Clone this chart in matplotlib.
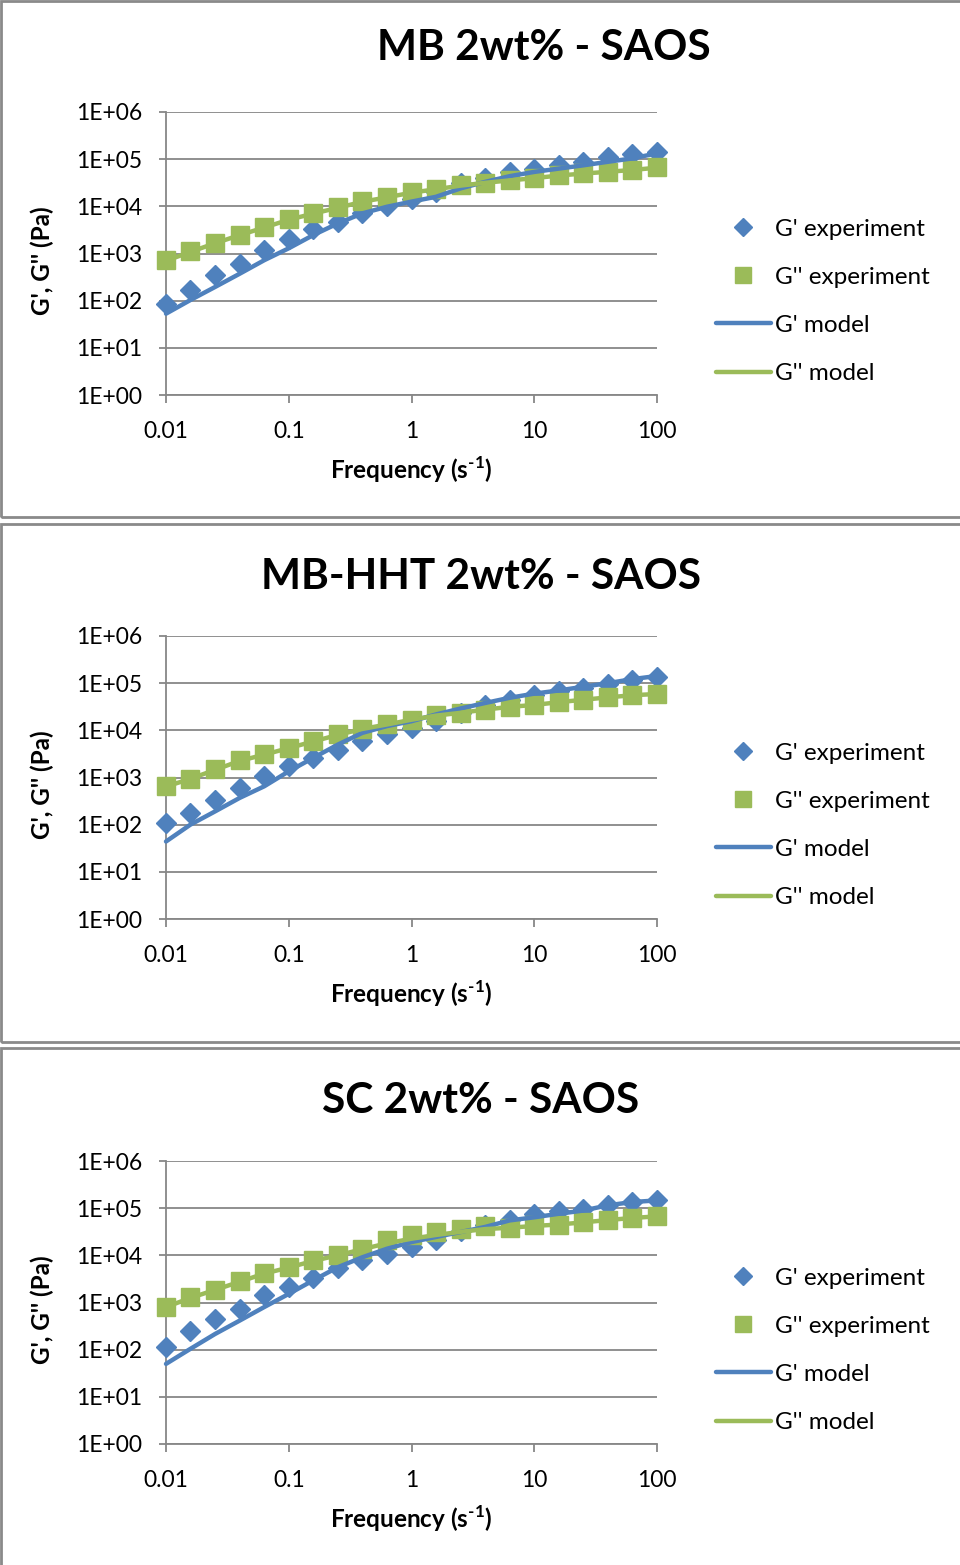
import numpy as np
import matplotlib
matplotlib.use('Agg')
import matplotlib.pyplot as plt
from matplotlib.patches import Rectangle

plt.rcParams['font.family'] = ['Lato', 'DejaVu Sans']
plt.rcParams['mathtext.fontset'] = 'custom'
plt.rcParams['mathtext.rm'] = 'Lato:bold'
plt.rcParams['mathtext.bf'] = 'Lato:bold'

# ---- data ----
freq = [0.01, 0.0158, 0.0251, 0.0398, 0.0631, 0.1, 0.158, 0.251, 0.398, 0.631,
        1, 1.58, 2.51, 3.98, 6.31, 10, 15.8, 25.1, 39.8, 63.1, 100]

titles = ['MB 2wt% - SAOS', 'MB-HHT 2wt% - SAOS', 'SC 2wt% - SAOS']

mb_gp_exp = [84, 166, 347, 613, 1170, 1990, 3240, 4700, 7050, 10000, 14000,
             20000, 31000, 39000, 54000, 63000, 74000, 88000, 112000, 129000, 144000]
mb_gpp_exp = [720, 1120, 1700, 2500, 3600, 5350, 7100, 9500, 13000, 15500, 20400,
              23300, 28400, 32000, 36000, 39000, 46000, 50000, 54000, 59000, 67000]
mb_gp_mod = [53, 103, 195, 372, 720, 1290, 2450, 4340, 7100, 9800, 12600,
             15900, 24000, 33000, 43600, 53700, 63000, 74000, 88000, 104000, 133000]
mb_gpp_mod = [700, 1080, 1650, 2450, 3550, 5200, 7000, 9300, 12500, 15500, 19500,
              23000, 27500, 31500, 35500, 39500, 45000, 49500, 54000, 59000, 66000]

hht_gp_exp = [107, 178, 339, 600, 1070, 1740, 2600, 3900, 5860, 8400, 11200,
              15600, 23300, 35000, 45000, 57000, 67000, 80000, 94000, 115000, 134000]
hht_gpp_exp = [650, 950, 1480, 2300, 3080, 4270, 5860, 8200, 10900, 13300, 16900,
               21000, 23300, 27600, 31500, 34000, 39600, 45000, 50000, 56000, 59000]
hht_gp_mod = [44, 100, 191, 369, 650, 1350, 2600, 4980, 8850, 12300, 15600,
              21700, 29000, 38000, 49000, 60000, 70000, 84000, 100000, 122000, 142000]
hht_gpp_mod = [640, 940, 1450, 2250, 3050, 4200, 5800, 8000, 10700, 13300, 16800,
               20500, 23500, 27500, 31500, 34500, 39500, 44500, 50000, 55500, 59000]

sc_gp_exp = [116, 253, 447, 725, 1470, 2100, 3300, 5460, 7800, 10800, 14900,
             20700, 33600, 43000, 55000, 76000, 89000, 97000, 115000, 135000, 152000]
sc_gpp_exp = [820, 1290, 1860, 2800, 4200, 5600, 7800, 10000, 13900, 21600, 26500,
              31000, 36500, 41000, 38400, 43000, 43000, 50000, 56000, 63000, 67000]
sc_gp_mod = [50, 104, 215, 413, 800, 1520, 2940, 5600, 9100, 13800, 19100,
             24500, 31200, 40000, 55000, 64000, 76000, 89000, 115000, 135000, 146000]
sc_gpp_mod = [800, 1250, 1850, 2750, 4100, 5500, 7600, 10000, 13500, 18000, 22500,
              27000, 31500, 36000, 38500, 42000, 45000, 50000, 56000, 62000, 67000]

panels = [
    (mb_gp_exp, mb_gpp_exp, mb_gp_mod, mb_gpp_mod),
    (hht_gp_exp, hht_gpp_exp, hht_gp_mod, hht_gpp_mod),
    (sc_gp_exp, sc_gpp_exp, sc_gp_mod, sc_gpp_mod),
]

labels = ["G' experiment", "G'' experiment", "G' model", "G'' model"]
ytick_vals = [1, 10, 100, 1e3, 1e4, 1e5, 1e6]
ytick_lbl = ['1E+00', '1E+01', '1E+02', '1E+03', '1E+04', '1E+05', '1E+06']
xtick_vals = [0.01, 0.1, 1, 10, 100]
xtick_lbl = ['0.01', '0.1', '1', '10', '100']

BLUE = '#4F81BD'
GREEN = '#9BBB59'
GRID = '#878787'

W, H = 960, 1565
fig = plt.figure(figsize=(W / 100, H / 100), dpi=100)

def fx(x):
    return x / W

def fy(y):
    return 1 - y / H

# panel geometry in pixels: (border top, border bottom, axes top, title x, title y)
geom = [(1, 517, 112, 544, 48), (524, 1042, 636, 481, 577), (1048, 1575, 1161, 481, 1101)]

for k, (gpe, gppe, gpm, gppm) in enumerate(panels):
    btop, bbot, atop, tx, ty = geom[k]
    fig.patches.append(Rectangle((fx(1), fy(bbot)), fx(1200), (bbot - btop) / H,
                                 transform=fig.transFigure, fill=False,
                                 edgecolor='#8a8a8a', linewidth=2, zorder=0))
    ax = fig.add_axes([fx(166), fy(atop + 283), fx(491), 283 / H])
    ax.set_xscale('log')
    ax.set_yscale('log')
    ax.set_xlim(0.01, 100)
    ax.set_ylim(1, 1e6)

    ax.plot(freq, gpe, linestyle='none', marker='D', markersize=10.2, color=BLUE,
            label=labels[0], zorder=3, clip_on=False)
    ax.plot(freq, gppe, linestyle='none', marker='s', markersize=13.6, color=GREEN,
            label=labels[1], zorder=3, clip_on=False)
    ax.plot(freq, gpm, color=BLUE, linewidth=3.2, label=labels[2], zorder=4,
            solid_capstyle='round', clip_on=False)
    ax.plot(freq, gppm, color=GREEN, linewidth=3.2, label=labels[3], zorder=4,
            solid_capstyle='round', clip_on=False)

    ax.set_yticks(ytick_vals)
    ax.set_yticklabels(ytick_lbl)
    ax.set_xticks(xtick_vals)
    ax.set_xticklabels(xtick_lbl)
    ax.minorticks_off()
    ax.yaxis.grid(True, color=GRID, linewidth=1.3)
    ax.set_axisbelow(True)
    for s in ['top', 'right']:
        ax.spines[s].set_visible(False)
    for s in ['left', 'bottom']:
        ax.spines[s].set_color(GRID)
        ax.spines[s].set_linewidth(1.3)
    ax.tick_params(axis='y', length=5, width=1.3, color=GRID, pad=12,
                   labelsize=16.5, labelcolor='black')
    ax.tick_params(axis='x', length=6, width=1.3, color=GRID, pad=12.5,
                   labelsize=16.5, labelcolor='black')

    ax.legend(loc='upper left', bbox_to_anchor=(1.1, 0.658), frameon=False,
              fontsize=17.5, handlelength=2.25, handletextpad=0.17,
              labelspacing=1.12, borderaxespad=0, markerscale=0.88)

    fig.text(fx(tx), fy(ty), titles[k], ha='center', va='center',
             fontsize=30.5, fontweight='bold')
    fig.text(fx(411), fy(atop + 358), r'Frequency (s$^{\text{-1}}$)', ha='center',
             va='center', fontsize=17.5, fontweight='bold')
    fig.text(fx(42), fy(atop + 149), "G', G'' (Pa)", ha='center', va='center',
             rotation=90, fontsize=17.5, fontweight='bold')

fig.savefig('out.png', dpi=100)
